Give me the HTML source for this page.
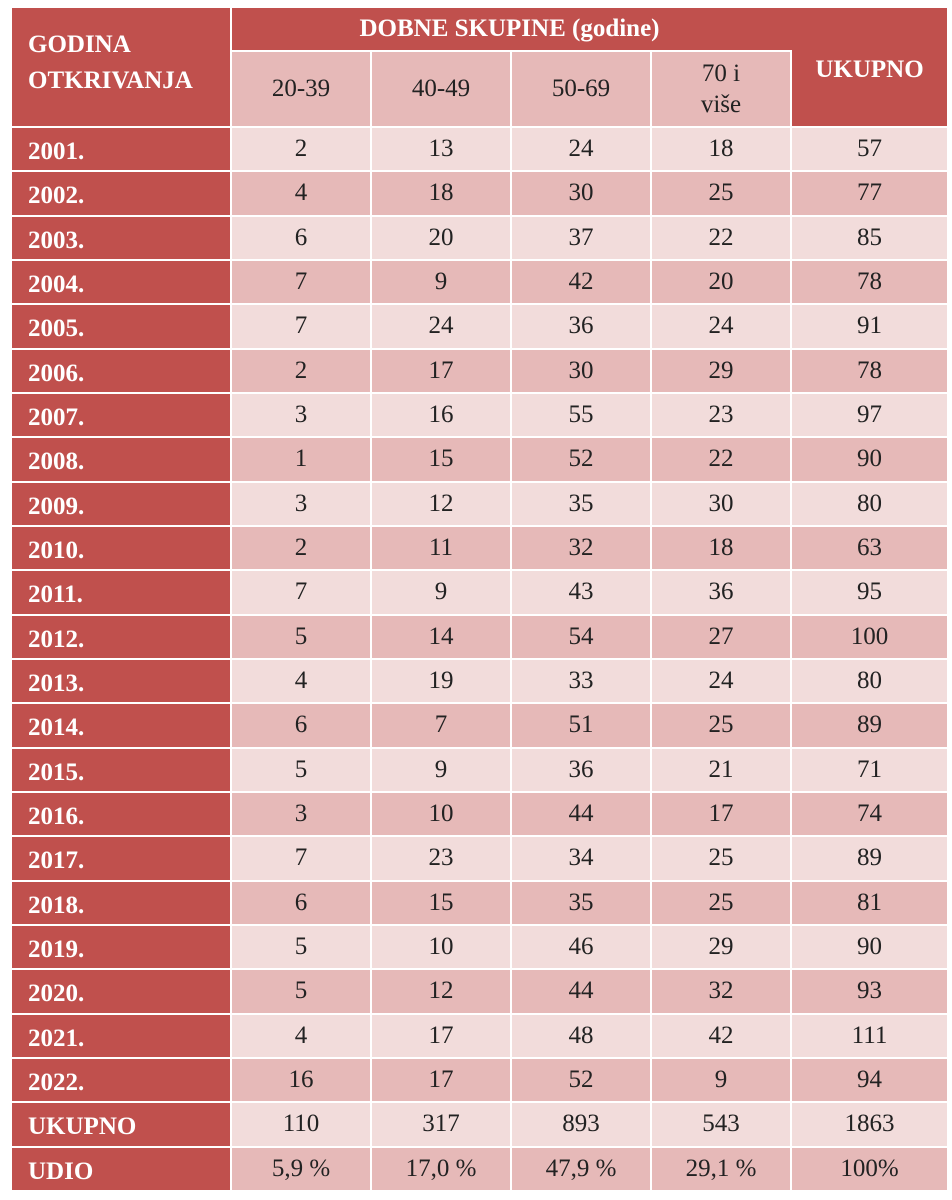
<!DOCTYPE html>
<html><head><meta charset="utf-8"><style>
body{margin:0;background:#fff;width:952px;height:1200px;overflow:hidden}
.g{position:absolute;left:12px;top:8px;display:grid;grid-template-columns:218px 138px 138px 138px 138px 155px;grid-template-rows:42px 74px;grid-auto-rows:42.33px;gap:2px;background:#fff;font-family:"Liberation Serif",serif;font-size:25px;color:#222}
.g div{display:flex;align-items:center;justify-content:center}
.r{background:#c0504d;color:#fff;font-weight:bold}
.y{justify-content:flex-start!important;padding-left:16px;padding-top:6px}
.a{background:#f2dcdb}.b{background:#e6b9b8}
.h{line-height:1.25;text-align:center}
</style></head><body>
<div class="g">
<div class="r y" style="grid-row:1/3;line-height:1.45;padding-top:0px;padding-bottom:8px">GODINA<br>OTKRIVANJA</div>
<div class="r" style="grid-column:2/7;padding-right:160px">DOBNE SKUPINE (godine)</div>
<div class="b">20-39</div><div class="b">40-49</div><div class="b">50-69</div><div class="b h">70 i<br>više</div><div class="r" style="margin-top:-2px;align-items:flex-start;padding-top:6px">UKUPNO</div>
<div class="r y">2001.</div><div class="a">2</div><div class="a">13</div><div class="a">24</div><div class="a">18</div><div class="a">57</div>
<div class="r y">2002.</div><div class="b">4</div><div class="b">18</div><div class="b">30</div><div class="b">25</div><div class="b">77</div>
<div class="r y">2003.</div><div class="a">6</div><div class="a">20</div><div class="a">37</div><div class="a">22</div><div class="a">85</div>
<div class="r y">2004.</div><div class="b">7</div><div class="b">9</div><div class="b">42</div><div class="b">20</div><div class="b">78</div>
<div class="r y">2005.</div><div class="a">7</div><div class="a">24</div><div class="a">36</div><div class="a">24</div><div class="a">91</div>
<div class="r y">2006.</div><div class="b">2</div><div class="b">17</div><div class="b">30</div><div class="b">29</div><div class="b">78</div>
<div class="r y">2007.</div><div class="a">3</div><div class="a">16</div><div class="a">55</div><div class="a">23</div><div class="a">97</div>
<div class="r y">2008.</div><div class="b">1</div><div class="b">15</div><div class="b">52</div><div class="b">22</div><div class="b">90</div>
<div class="r y">2009.</div><div class="a">3</div><div class="a">12</div><div class="a">35</div><div class="a">30</div><div class="a">80</div>
<div class="r y">2010.</div><div class="b">2</div><div class="b">11</div><div class="b">32</div><div class="b">18</div><div class="b">63</div>
<div class="r y">2011.</div><div class="a">7</div><div class="a">9</div><div class="a">43</div><div class="a">36</div><div class="a">95</div>
<div class="r y">2012.</div><div class="b">5</div><div class="b">14</div><div class="b">54</div><div class="b">27</div><div class="b">100</div>
<div class="r y">2013.</div><div class="a">4</div><div class="a">19</div><div class="a">33</div><div class="a">24</div><div class="a">80</div>
<div class="r y">2014.</div><div class="b">6</div><div class="b">7</div><div class="b">51</div><div class="b">25</div><div class="b">89</div>
<div class="r y">2015.</div><div class="a">5</div><div class="a">9</div><div class="a">36</div><div class="a">21</div><div class="a">71</div>
<div class="r y">2016.</div><div class="b">3</div><div class="b">10</div><div class="b">44</div><div class="b">17</div><div class="b">74</div>
<div class="r y">2017.</div><div class="a">7</div><div class="a">23</div><div class="a">34</div><div class="a">25</div><div class="a">89</div>
<div class="r y">2018.</div><div class="b">6</div><div class="b">15</div><div class="b">35</div><div class="b">25</div><div class="b">81</div>
<div class="r y">2019.</div><div class="a">5</div><div class="a">10</div><div class="a">46</div><div class="a">29</div><div class="a">90</div>
<div class="r y">2020.</div><div class="b">5</div><div class="b">12</div><div class="b">44</div><div class="b">32</div><div class="b">93</div>
<div class="r y">2021.</div><div class="a">4</div><div class="a">17</div><div class="a">48</div><div class="a">42</div><div class="a">111</div>
<div class="r y">2022.</div><div class="b">16</div><div class="b">17</div><div class="b">52</div><div class="b">9</div><div class="b">94</div>
<div class="r y">UKUPNO</div><div class="a">110</div><div class="a">317</div><div class="a">893</div><div class="a">543</div><div class="a">1863</div>
<div class="r y">UDIO</div><div class="b">5,9 %</div><div class="b">17,0 %</div><div class="b">47,9 %</div><div class="b">29,1 %</div><div class="b">100%</div>
</div>
</body></html>
